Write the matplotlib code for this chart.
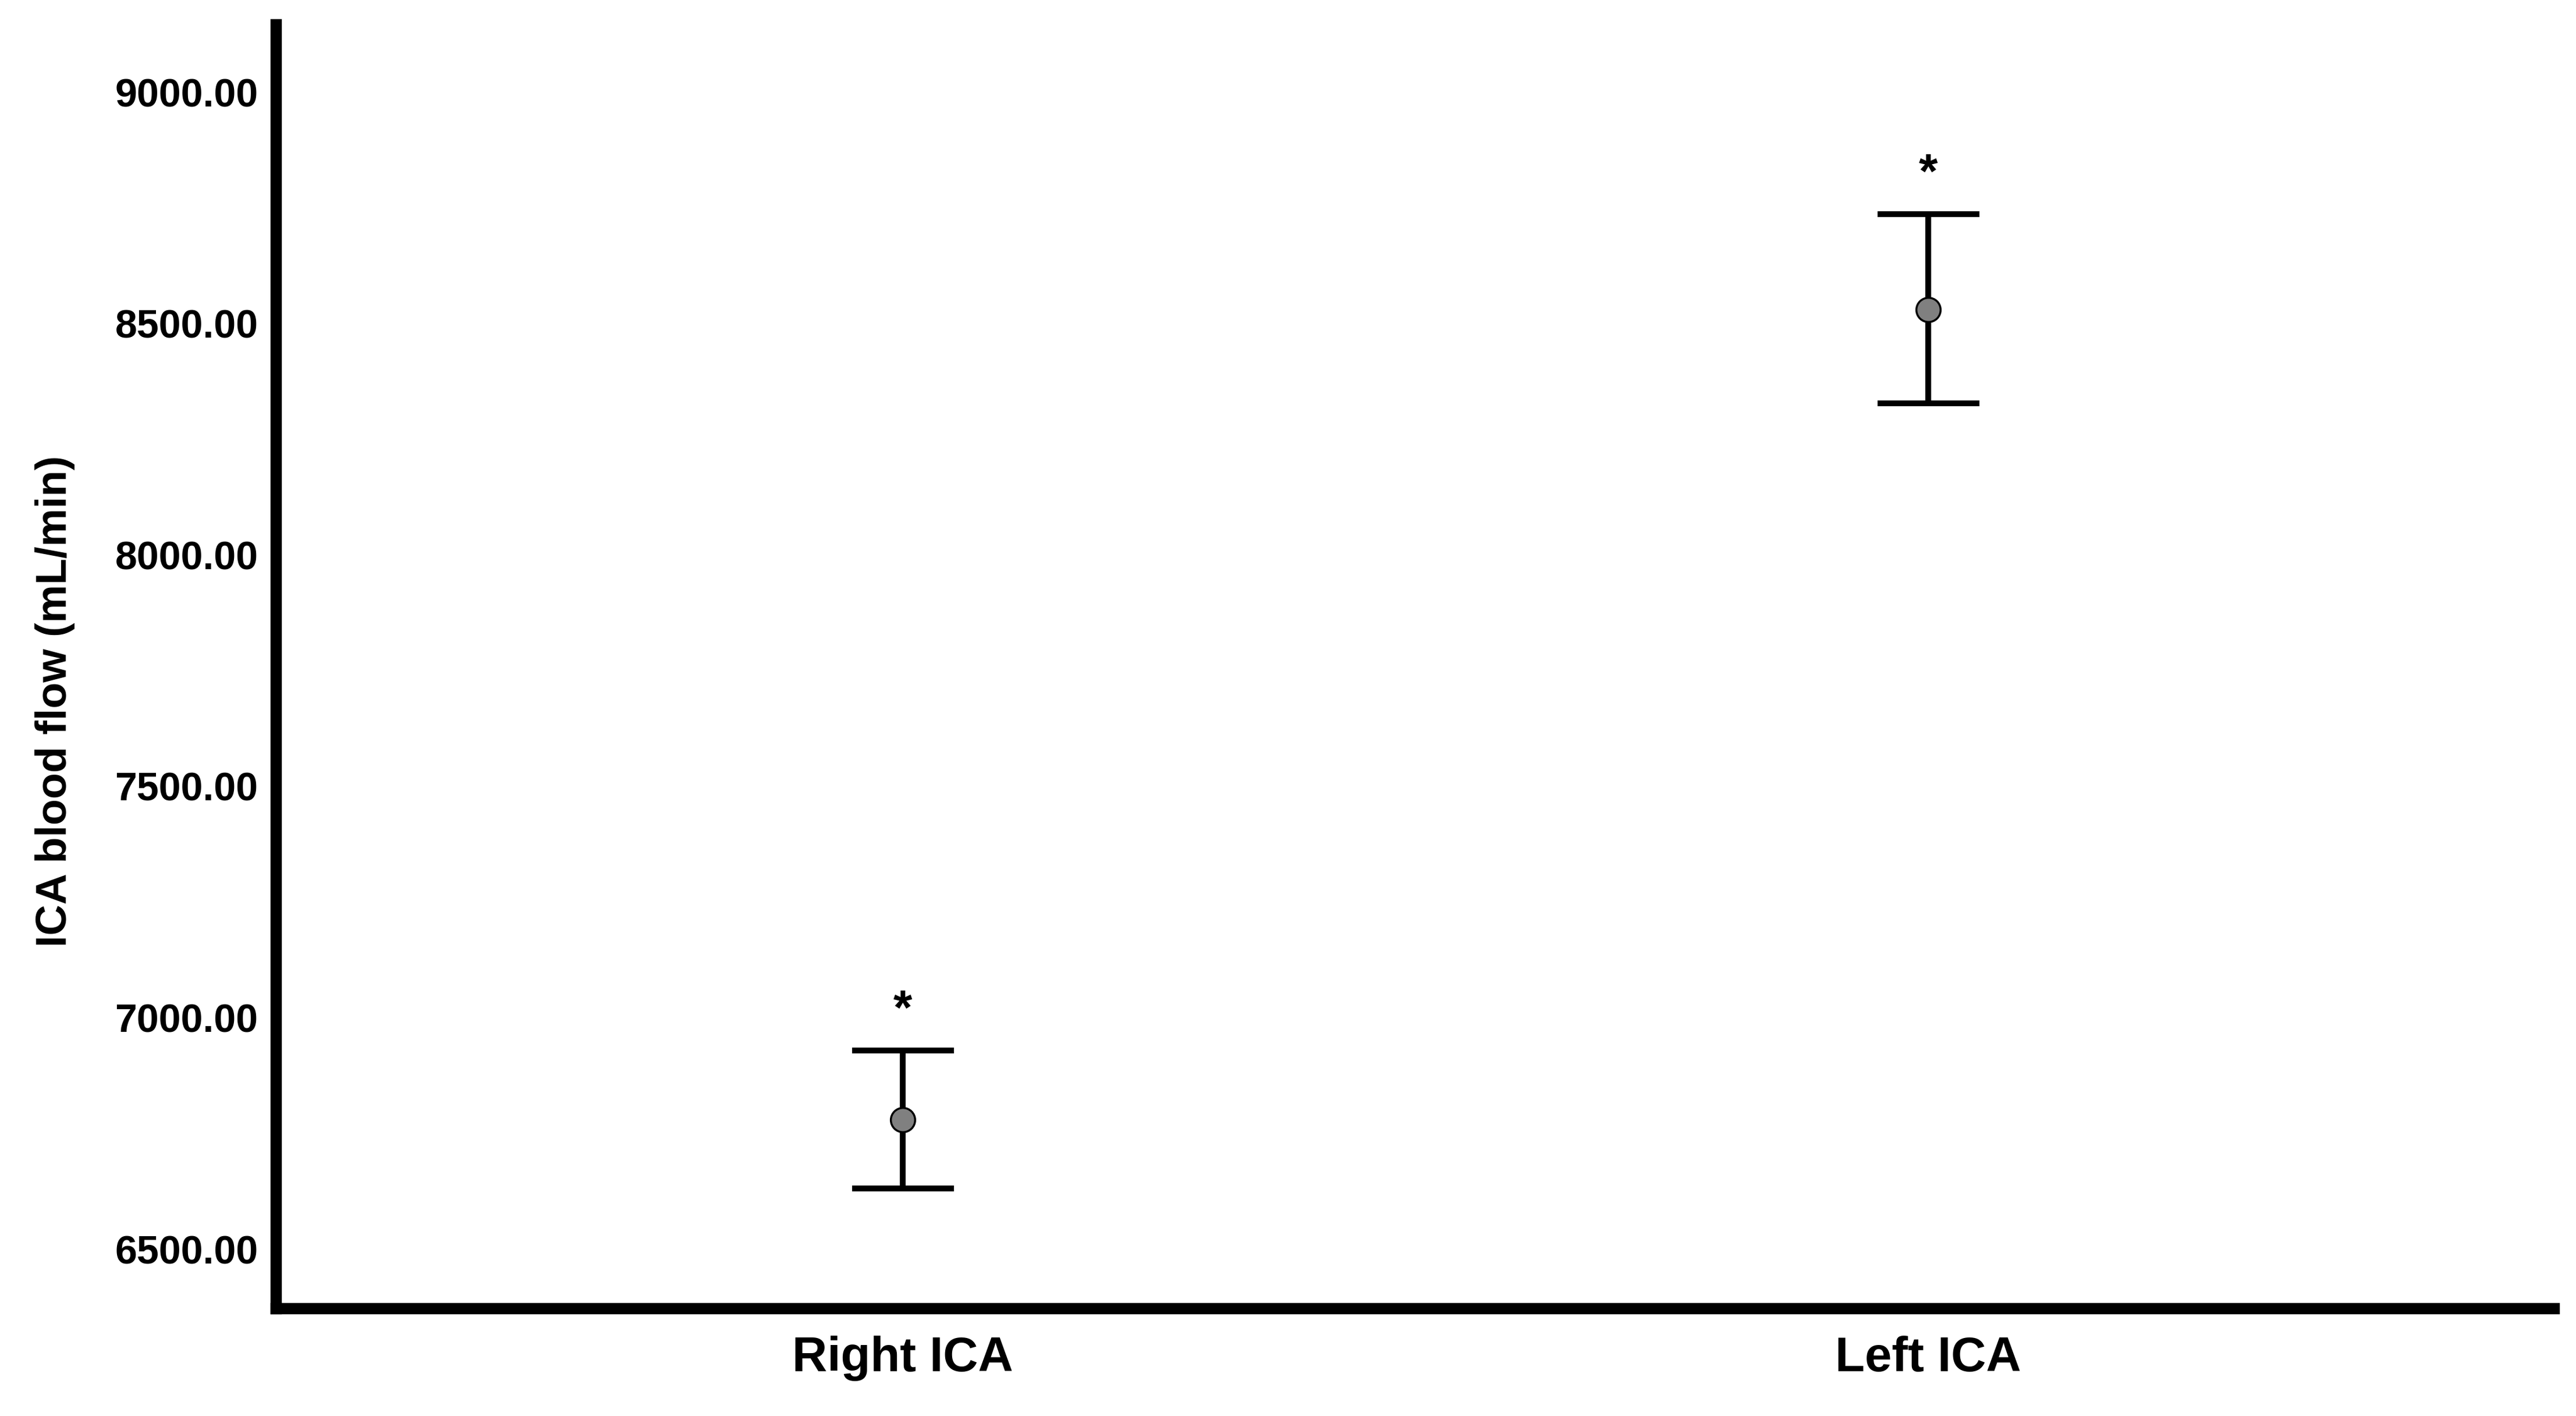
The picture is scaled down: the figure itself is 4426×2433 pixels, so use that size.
import matplotlib
matplotlib.use("Agg")
import matplotlib.pyplot as plt

# Data
categories = ["Right ICA", "Left ICA"]
means = [6780, 8530]
ci_lower = [6631, 8327]
ci_upper = [6929, 8736]
sig_marks = ["*", "*"]
yticks = [6500, 7000, 7500, 8000, 8500, 9000]
ytick_labels = ["6500.00", "7000.00", "7500.00", "8000.00", "8500.00", "9000.00"]
ylabel = "ICA blood flow (mL/min)"

W, H, DPI = 4426, 2433, 100
fig = plt.figure(figsize=(W / DPI, H / DPI), dpi=DPI)
ax = fig.add_axes([474 / W, 1 - 2248 / H, (4388 - 474) / W, (2248 - 42) / H])

x = list(range(len(categories)))
yerr = [[m - lo for m, lo in zip(means, ci_lower)],
        [hi - m for m, hi in zip(means, ci_upper)]]
ax.errorbar(x, means, yerr=yerr, fmt="none", ecolor="black",
            elinewidth=7.2, capsize=63, capthick=7.2, zorder=3)
ax.plot(x, means, linestyle="none", marker="o", markersize=30,
        markerfacecolor="#808080", markeredgecolor="black",
        markeredgewidth=2.5, zorder=4)

for xi, hi, s in zip(x, ci_upper, sig_marks):
    ax.annotate(s, xy=(xi, hi), xytext=(0, 20), textcoords="offset points",
                ha="center", va="bottom", fontsize=60, fontweight="bold",
                family="Liberation Sans")

ax.set_xlim(-0.611, 1.610)
ax.set_ylim(6372, 9146)
ax.set_xticks(x)
ax.set_xticklabels(categories, fontsize=60, fontweight="bold", family="Liberation Sans")
ax.set_yticks(yticks)
ax.set_yticklabels(ytick_labels, fontsize=49, fontweight="bold", family="Liberation Sans")
ax.tick_params(axis="both", length=0)
ax.tick_params(axis="y", pad=22)
ax.tick_params(axis="x", pad=34)

for side in ["top", "right"]:
    ax.spines[side].set_visible(False)
for side in ["left", "bottom"]:
    ax.spines[side].set_linewidth(14)
    ax.spines[side].set_color("black")
    ax.spines[side].set_capstyle("projecting")

fig.text(95 / W, 1 - 1205 / H, ylabel, rotation=90, ha="center", va="center",
         fontsize=53, fontweight="bold", family="Liberation Sans")

fig.savefig("out.png", dpi=DPI, facecolor="white")
